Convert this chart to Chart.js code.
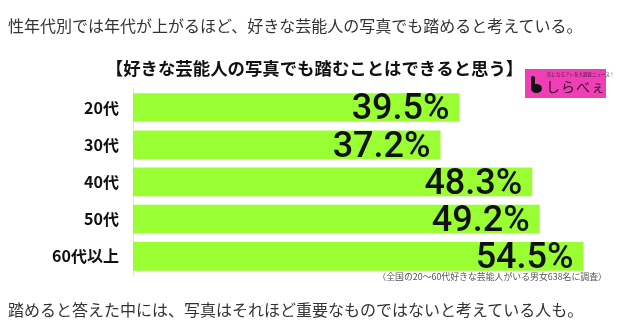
<!DOCTYPE html>
<html>
<head>
<meta charset="utf-8">
<script src="https://cdn.jsdelivr.net/npm/chart.js@4/dist/chart.umd.min.js"></script>
<style>
  body { margin: 0; background: #fff; }
  #wrap { position: relative; width: 635px; height: 336px; font-family: "Noto Sans CJK JP", sans-serif; }
  #c { position: absolute; left: 0; top: 0; }
  .txt { position: absolute; left: 8px; font-size: 16px; line-height: 1; color: #333; white-space: nowrap; }
  #note { position: absolute; right: 28px; top: 273px; font-size: 8.9px; line-height: 1; color: #555; white-space: nowrap; }
  #logo { position: absolute; left: 525px; top: 69px; width: 81px; height: 29px; background: #ee3fb6; }
  #logo .small { position: absolute; left: 22px; top: 3px; font-size: 4.5px; line-height: 1; color: #4a1a3a; white-space: nowrap; }
  #logo .name { position: absolute; left: 21px; top: 10px; font-size: 14px; line-height: 1; color: #3a0f30; letter-spacing: 1px; white-space: nowrap; }
  #logo .mark { position: absolute; left: 6px; top: 7px; width: 4px; height: 12px; background: #111; border-radius: 2px; }
  #logo .mark2 { position: absolute; left: 6px; top: 15px; width: 11px; height: 9px; background: #111; border-radius: 50%; }
</style>
</head>
<body>
<div id="wrap">
  <canvas id="c" width="635" height="336"></canvas>
  <div class="txt" style="top:17px">性年代別では年代が上がるほど、好きな芸能人の写真でも踏めると考えている。</div>
  <div id="logo"><div class="mark"></div><div class="mark2"></div><div class="small">気になるアレを大調査ニュース！</div><div class="name">しらべぇ</div></div>
  <div id="note">（全国の20～60代好きな芸能人がいる男女638名に調査）</div>
  <div class="txt" style="top:301px">踏めると答えた中には、写真はそれほど重要なものではないと考えている人も。</div>
</div>
<script>
const categories = ["20代", "30代", "40代", "50代", "60代以上"];
const values = [39.5, 37.2, 48.3, 49.2, 54.5];
const chartTitle = "【好きな芸能人の写真でも踏むことはできると思う】";

const jpFont = '"Noto Sans CJK JP", sans-serif';

// big percentage labels drawn inside the end of each bar
const valueLabels = {
  id: "valueLabels",
  afterDatasetsDraw(chart) {
    const ctx = chart.ctx;
    const meta = chart.getDatasetMeta(0);
    ctx.save();
    ctx.font = "500 36px Roboto, 'Liberation Sans', sans-serif";
    ctx.fillStyle = "#111";
    ctx.textAlign = "right";
    ctx.textBaseline = "alphabetic";
    meta.data.forEach((bar, i) => {
      const text = values[i].toFixed(1) + "%";
      ctx.fillText(text, bar.x - 10, bar.y + 12);
    });
    ctx.restore();
  }
};

new Chart(document.getElementById("c"), {
  type: "bar",
  data: {
    labels: categories,
    datasets: [{
      data: values,
      backgroundColor: "#99ff33",
      borderWidth: 0,
      barPercentage: 0.77,
      categoryPercentage: 1
    }]
  },
  options: {
    responsive: false,
    animation: false,
    indexAxis: "y",
    layout: { padding: { left: 0, right: 6, top: 0, bottom: 61 } },
    plugins: {
      legend: { display: false },
      tooltip: { enabled: false },
      title: {
        display: true,
        text: chartTitle,
        color: "#111",
        font: { family: jpFont, size: 17.4, weight: "bold", lineHeight: 1.2 },
        padding: { top: 58, bottom: 10 }
      }
    },
    scales: {
      x: { display: false, min: 0, max: 60 },
      y: {
        grid: { display: false, drawTicks: false },
        border: { display: true, color: "#e3e3e3" },
        ticks: { color: "#111", padding: 14, font: { family: jpFont, size: 16, weight: "bold" } },
        afterFit(scale) { scale.width = 133; }
      }
    }
  },
  plugins: [valueLabels]
});
</script>
</body>
</html>
